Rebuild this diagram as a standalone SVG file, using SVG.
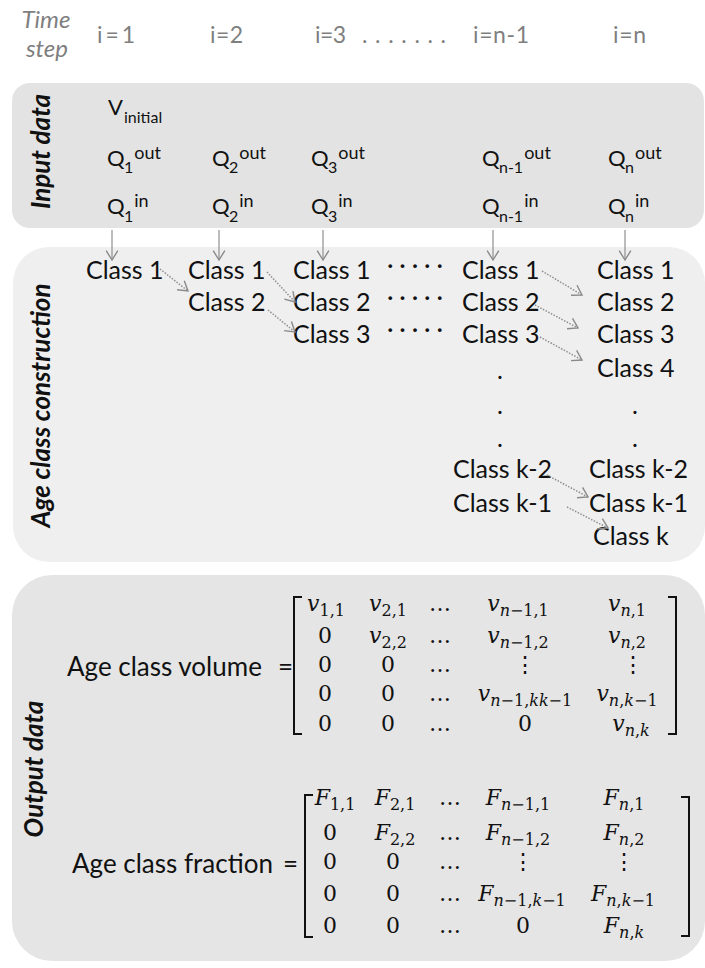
<svg xmlns="http://www.w3.org/2000/svg" width="705" height="968" viewBox="0 0 705 968">
<defs>
<style>
.hdr{font-family:Lato,"Liberation Sans",sans-serif;font-size:23px;fill:#7f7f7f}
.ts{font-family:Lato,"Liberation Sans",sans-serif;font-size:24px;font-style:italic;fill:#7f7f7f;text-anchor:middle}
.lab{font-family:Lato,"Liberation Sans",sans-serif;font-size:26px;font-weight:bold;font-style:italic;fill:#111;text-anchor:middle}
.inp{font-family:Lato,"Liberation Sans",sans-serif;font-size:22px;fill:#111}
.sub{font-size:16px}
.sup{font-size:18px}
.cls{font-family:Lato,"Liberation Sans",sans-serif;font-size:25px;fill:#111}
.dot{font-family:Lato,"Liberation Sans",sans-serif;font-size:25px;fill:#111;text-anchor:middle}
.out{font-family:Lato,"Liberation Sans",sans-serif;font-size:26px;fill:#111}
.mx{font-family:"DejaVu Serif","Liberation Serif",serif;font-size:22px;fill:#111;text-anchor:middle}
.it{font-style:italic}
.ms{font-size:16px}
.vline{stroke:#8f8f8f;stroke-width:1.2;fill:none}
.dline{stroke:#8f8f8f;stroke-width:1.5;stroke-dasharray:1.5 1.5;fill:none}
.br{stroke:#111;stroke-width:2;fill:none}
.panel{stroke:none}
</style>
<marker id="ah" markerUnits="userSpaceOnUse" markerWidth="14" markerHeight="14" refX="10" refY="6" orient="auto" viewBox="0 0 12 12">
<path d="M2,1 L10,6 L2,11" fill="none" stroke="#8a8a8a" stroke-width="1.2"/>
</marker>
</defs>
<rect width="705" height="968" fill="#ffffff"/>

<g id="header">
<text class="ts" x="46" y="28">Time</text>
<text class="ts" x="47" y="57">step</text>
<text class="hdr" x="97" y="43" textLength="38">i=1</text>
<text class="hdr" x="210" y="43" textLength="33">i=2</text>
<text class="hdr" x="315" y="43" textLength="31">i=3</text>
<text class="hdr" x="362" y="43" textLength="84">. . . . . . .</text>
<text class="hdr" x="473" y="43" textLength="56">i=n-1</text>
<text class="hdr" x="613" y="43" textLength="33">i=n</text>
</g>

<g id="input-data">
<rect class="panel" x="12" y="83" width="692" height="145" rx="18" fill="#e3e3e3"/>
<text class="lab" transform="translate(50,151.5) rotate(-90)">Input data</text>
<text class="inp" x="108" y="115">V<tspan class="sub" x="124" y="123" font-size="17">initial</tspan></text>
<text class="inp" x="107" y="166">Q<tspan class="sub" x="124" y="173">1</tspan><tspan class="sup" y="159" dx="1">out</tspan></text>
<text class="inp" x="212" y="166">Q<tspan class="sub" x="229" y="173">2</tspan><tspan class="sup" y="159" dx="1">out</tspan></text>
<text class="inp" x="311" y="166">Q<tspan class="sub" x="328" y="173">3</tspan><tspan class="sup" y="159" dx="1">out</tspan></text>
<text class="inp" x="482" y="166">Q<tspan class="sub" x="499" y="173">n-1</tspan><tspan class="sup" y="159" dx="1">out</tspan></text>
<text class="inp" x="608" y="166">Q<tspan class="sub" x="625" y="173">n</tspan><tspan class="sup" y="159" dx="1">out</tspan></text>
<text class="inp" x="107" y="214">Q<tspan class="sub" x="124" y="222">1</tspan><tspan class="sup" y="207" dx="1">in</tspan></text>
<text class="inp" x="212" y="214">Q<tspan class="sub" x="229" y="222">2</tspan><tspan class="sup" y="207" dx="1">in</tspan></text>
<text class="inp" x="311" y="214">Q<tspan class="sub" x="328" y="222">3</tspan><tspan class="sup" y="207" dx="1">in</tspan></text>
<text class="inp" x="482" y="214">Q<tspan class="sub" x="499" y="222">n-1</tspan><tspan class="sup" y="207" dx="1">in</tspan></text>
<text class="inp" x="608" y="214">Q<tspan class="sub" x="625" y="222">n</tspan><tspan class="sup" y="207" dx="1">in</tspan></text>
</g>

<g id="age-class-construction">
<rect class="panel" x="13" y="247" width="692" height="315" rx="36" fill="#efefef"/>
<text class="lab" transform="translate(50,405.5) rotate(-90)">Age class construction</text>
</g>

<g id="col-1">
<text class="cls" x="86" y="279">Class 1</text>
</g>
<g id="col-2">
<text class="cls" x="188" y="279">Class 1</text>
<text class="cls" x="188" y="311">Class 2</text>
</g>
<g id="col-3">
<text class="cls" x="293" y="279">Class 1</text>
<text class="cls" x="293" y="311">Class 2</text>
<text class="cls" x="293" y="343">Class 3</text>
</g>
<g id="gap-dots">
<text class="cls" x="387" y="274" textLength="56">· · · · ·</text>
<text class="cls" x="387" y="306" textLength="56">· · · · ·</text>
<text class="cls" x="387" y="338" textLength="56">· · · · ·</text>
</g>
<g id="col-n-1">
<text class="cls" x="462" y="279">Class 1</text>
<text class="cls" x="462" y="311">Class 2</text>
<text class="cls" x="462" y="343">Class 3</text>
<text class="dot" x="500" y="379">.</text>
<text class="dot" x="500" y="414">.</text>
<text class="dot" x="500" y="447">.</text>
<text class="cls" x="453" y="478">Class k-2</text>
<text class="cls" x="453" y="512">Class k-1</text>
</g>
<g id="col-n">
<text class="cls" x="597" y="279">Class 1</text>
<text class="cls" x="597" y="311">Class 2</text>
<text class="cls" x="597" y="343">Class 3</text>
<text class="cls" x="597" y="377">Class 4</text>
<text class="dot" x="635" y="414">.</text>
<text class="dot" x="635" y="447">.</text>
<text class="cls" x="589" y="478">Class k-2</text>
<text class="cls" x="589" y="512">Class k-1</text>
<text class="cls" x="593" y="545">Class k</text>
</g>

<g id="connectors">
<line class="vline" x1="112" y1="230" x2="112" y2="260" marker-end="url(#ah)"/>
<line class="vline" x1="219" y1="230" x2="219" y2="260" marker-end="url(#ah)"/>
<line class="vline" x1="323" y1="230" x2="323" y2="260" marker-end="url(#ah)"/>
<line class="vline" x1="493" y1="230" x2="493" y2="260" marker-end="url(#ah)"/>
<line class="vline" x1="625" y1="230" x2="625" y2="260" marker-end="url(#ah)"/>
<line class="dline" x1="160" y1="269" x2="188" y2="291" marker-end="url(#ah)"/>
<line class="dline" x1="267" y1="272" x2="295" y2="302" marker-end="url(#ah)"/>
<line class="dline" x1="268" y1="310" x2="295" y2="332" marker-end="url(#ah)"/>
<line class="dline" x1="542" y1="271" x2="582" y2="295" marker-end="url(#ah)"/>
<line class="dline" x1="535" y1="305" x2="578" y2="328" marker-end="url(#ah)"/>
<line class="dline" x1="540" y1="337" x2="582" y2="360" marker-end="url(#ah)"/>
<line class="dline" x1="547" y1="475" x2="588" y2="497" marker-end="url(#ah)"/>
<line class="dline" x1="567" y1="507" x2="608" y2="528" marker-end="url(#ah)"/>
</g>

<g id="output-data">
<rect class="panel" x="12" y="575" width="693" height="386" rx="40" fill="#e5e5e5"/>
<text class="lab" transform="translate(43,769) rotate(-90)">Output data</text>
</g>

<g id="age-class-volume">
<text class="out" x="67" y="676">Age class volume</text>
<text class="out" x="278" y="676">=</text>
<path class="br" d="M302,597 H294 V734 H302"/>
<path class="br" d="M668,597 H676 V734 H668"/>
<text class="mx" x="326" y="611"><tspan class="it">v</tspan><tspan class="ms" dy="5">1,1</tspan></text>
<text class="mx" x="388" y="611"><tspan class="it">v</tspan><tspan class="ms" dy="5">2,1</tspan></text>
<text class="mx" x="440" y="611">…</text>
<text class="mx" x="518" y="611"><tspan class="it">v</tspan><tspan class="ms" dy="5"><tspan class="it">n</tspan>−1,1</tspan></text>
<text class="mx" x="627" y="611"><tspan class="it">v</tspan><tspan class="ms" dy="5"><tspan class="it">n</tspan>,1</tspan></text>
<text class="mx" x="325" y="643">0</text>
<text class="mx" x="388" y="643"><tspan class="it">v</tspan><tspan class="ms" dy="5">2,2</tspan></text>
<text class="mx" x="440" y="643">…</text>
<text class="mx" x="518" y="643"><tspan class="it">v</tspan><tspan class="ms" dy="5"><tspan class="it">n</tspan>−1,2</tspan></text>
<text class="mx" x="627" y="643"><tspan class="it">v</tspan><tspan class="ms" dy="5"><tspan class="it">n</tspan>,2</tspan></text>
<text class="mx" x="325" y="672">0</text>
<text class="mx" x="388" y="672">0</text>
<text class="mx" x="440" y="672">…</text>
<text class="mx" x="525" y="672">⋮</text>
<text class="mx" x="633" y="672">⋮</text>
<text class="mx" x="325" y="701">0</text>
<text class="mx" x="388" y="701">0</text>
<text class="mx" x="440" y="701">…</text>
<text class="mx" x="525" y="701"><tspan class="it">v</tspan><tspan class="ms" dy="5"><tspan class="it">n</tspan>−1,<tspan class="it">kk</tspan>−1</tspan></text>
<text class="mx" x="627" y="701"><tspan class="it">v</tspan><tspan class="ms" dy="5"><tspan class="it">n</tspan>,<tspan class="it">k</tspan>−1</tspan></text>
<text class="mx" x="325" y="731">0</text>
<text class="mx" x="388" y="731">0</text>
<text class="mx" x="440" y="731">…</text>
<text class="mx" x="525" y="731">0</text>
<text class="mx" x="631" y="731"><tspan class="it">v</tspan><tspan class="ms" dy="5"><tspan class="it">n</tspan>,<tspan class="it">k</tspan></tspan></text>
</g>

<g id="age-class-fraction">
<text class="out" x="72" y="873">Age class fraction</text>
<text class="out" x="283" y="873">=</text>
<path class="br" d="M313,795 H305 V937 H313"/>
<path class="br" d="M681,797 H689 V936 H681"/>
<text class="mx" x="335" y="805"><tspan class="it">F</tspan><tspan class="ms" dy="5">1,1</tspan></text>
<text class="mx" x="395" y="805"><tspan class="it">F</tspan><tspan class="ms" dy="5">2,1</tspan></text>
<text class="mx" x="450" y="805">…</text>
<text class="mx" x="518" y="805"><tspan class="it">F</tspan><tspan class="ms" dy="5"><tspan class="it">n</tspan>−1,1</tspan></text>
<text class="mx" x="624" y="805"><tspan class="it">F</tspan><tspan class="ms" dy="5"><tspan class="it">n</tspan>,1</tspan></text>
<text class="mx" x="330" y="840">0</text>
<text class="mx" x="395" y="840"><tspan class="it">F</tspan><tspan class="ms" dy="5">2,2</tspan></text>
<text class="mx" x="450" y="840">…</text>
<text class="mx" x="518" y="840"><tspan class="it">F</tspan><tspan class="ms" dy="5"><tspan class="it">n</tspan>−1,2</tspan></text>
<text class="mx" x="624" y="840"><tspan class="it">F</tspan><tspan class="ms" dy="5"><tspan class="it">n</tspan>,2</tspan></text>
<text class="mx" x="330" y="869">0</text>
<text class="mx" x="393" y="869">0</text>
<text class="mx" x="450" y="869">…</text>
<text class="mx" x="523" y="869">⋮</text>
<text class="mx" x="624" y="869">⋮</text>
<text class="mx" x="330" y="901">0</text>
<text class="mx" x="393" y="901">0</text>
<text class="mx" x="450" y="901">…</text>
<text class="mx" x="522" y="901"><tspan class="it">F</tspan><tspan class="ms" dy="5"><tspan class="it">n</tspan>−1,<tspan class="it">k</tspan>−1</tspan></text>
<text class="mx" x="623" y="901"><tspan class="it">F</tspan><tspan class="ms" dy="5"><tspan class="it">n</tspan>,<tspan class="it">k</tspan>−1</tspan></text>
<text class="mx" x="330" y="933">0</text>
<text class="mx" x="393" y="933">0</text>
<text class="mx" x="450" y="933">…</text>
<text class="mx" x="523" y="933">0</text>
<text class="mx" x="624" y="933"><tspan class="it">F</tspan><tspan class="ms" dy="5"><tspan class="it">n</tspan>,<tspan class="it">k</tspan></tspan></text>
</g>
</svg>
